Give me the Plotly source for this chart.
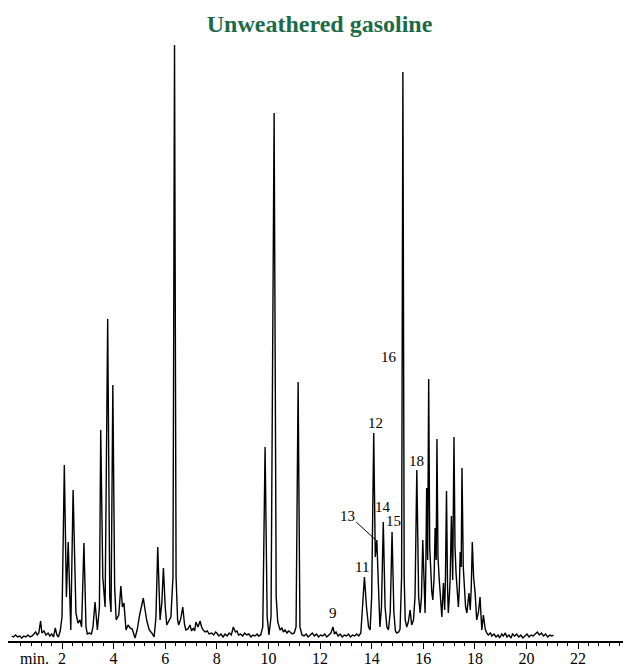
import plotly.graph_objects as go

# Chromatogram trace: retention time (min) and detector response (arbitrary units)
retention_time = [
    0.05, 0.12, 0.2, 0.28, 0.36, 0.44, 0.52, 0.6, 0.68, 0.76, 0.84, 0.92, 0.98, 1.04, 1.1, 1.17, 1.22, 1.3, 1.38, 1.46,
    1.53, 1.6, 1.67, 1.74, 1.8, 1.86, 1.93, 2.0, 2.09, 2.17, 2.24, 2.34, 2.43, 2.54, 2.62, 2.7, 2.76, 2.85, 2.93, 2.98,
    3.06, 3.14, 3.2, 3.28, 3.37, 3.45, 3.5, 3.58, 3.67, 3.77, 3.85, 3.9, 3.97, 4.04, 4.1, 4.2, 4.28, 4.34, 4.4, 4.48,
    4.56, 4.64, 4.72, 4.83, 4.92, 5.0, 5.08, 5.15, 5.22, 5.28, 5.38, 5.48, 5.57, 5.64, 5.71, 5.77, 5.8, 5.87, 5.93, 6.0,
    6.06, 6.12, 6.22, 6.3, 6.36, 6.42, 6.48, 6.52, 6.6, 6.68, 6.75, 6.8, 6.88, 6.96, 7.02, 7.09, 7.14, 7.19, 7.27, 7.35,
    7.41, 7.47, 7.55, 7.63, 7.7, 7.8, 7.88, 7.95, 8.0, 8.08, 8.16, 8.24, 8.32, 8.4, 8.48, 8.56, 8.64, 8.72, 8.78, 8.84,
    8.92, 9.0, 9.08, 9.16, 9.24, 9.32, 9.4, 9.48, 9.56, 9.62, 9.7, 9.78, 9.87, 9.95, 10.02, 10.1, 10.22, 10.3, 10.36, 10.45,
    10.52, 10.58, 10.64, 10.72, 10.78, 10.84, 10.92, 11.0, 11.07, 11.15, 11.22, 11.3, 11.38, 11.46, 11.54, 11.62, 11.7, 11.78, 11.86, 11.94,
    12.02, 12.1, 12.18, 12.26, 12.34, 12.42, 12.5, 12.56, 12.62, 12.7, 12.78, 12.86, 12.94, 13.02, 13.1, 13.18, 13.26, 13.34, 13.42, 13.5,
    13.58, 13.64, 13.72, 13.8, 13.88, 13.94, 14.0, 14.08, 14.14, 14.2, 14.26, 14.32, 14.38, 14.45, 14.52, 14.59, 14.65, 14.72, 14.79, 14.86,
    14.92, 14.97, 15.05, 15.1, 15.16, 15.21, 15.26, 15.3, 15.36, 15.42, 15.49, 15.55, 15.62, 15.68, 15.75, 15.82, 15.88, 15.93, 15.98, 16.03,
    16.07, 16.1, 16.13, 16.17, 16.21, 16.25, 16.29, 16.33, 16.37, 16.42, 16.46, 16.5, 16.53, 16.57, 16.62, 16.67, 16.72, 16.78, 16.83, 16.86,
    16.9, 16.94, 16.97, 17.01, 17.04, 17.09, 17.14, 17.19, 17.23, 17.27, 17.32, 17.36, 17.4, 17.43, 17.47, 17.5, 17.55, 17.59, 17.64, 17.69,
    17.73, 17.77, 17.82, 17.86, 17.9, 17.95, 18.01, 18.07, 18.14, 18.2, 18.24, 18.27, 18.33, 18.4, 18.46, 18.52, 18.6, 18.66, 18.74, 18.82,
    18.9, 18.96, 19.04, 19.1, 19.18, 19.24, 19.32, 19.4, 19.46, 19.54, 19.62, 19.7, 19.78, 19.86, 19.94, 20.02, 20.1, 20.18, 20.26, 20.34,
    20.42, 20.5, 20.58, 20.66, 20.74, 20.82, 20.9, 20.98, 21.05,
]
abundance = [
    1, 0, 2, 0, 1, -1, 1, 0, 2, 0, 1, 3, 5, 2, 4, 16, 4, 6, 2, 4,
    1, 3, 0, 9, 2, 0, 6, 20, 172, 40, 95, 7, 147, 24, 14, 17, 10, 94, 10, 3,
    4, 3, 10, 35, 7, 30, 207, 60, 30, 318, 40, 25, 252, 50, 17, 22, 51, 30, 34, 7,
    12, 9, 8, -1, 8, 21, 30, 39, 27, 17, 7, 4, 0, 20, 90, 30, 17, 35, 69, 30,
    12, 15, 20, 60, 592, 60, 17, 12, 18, 30, 12, 7, 8, 12, 6, 9, 6, 15, 10, 16,
    10, 7, 5, 6, 3, 4, 2, 5, 4, 1, 3, 0, 3, 1, 4, 2, 10, 5, 6, 2,
    3, 1, 4, 2, 3, 0, 2, 1, 3, 1, 2, 10, 190, 20, 2, 20, 524, 40, 15, 7,
    9, 5, 7, 4, 6, 5, 3, 4, 10, 255, 10, 2, 1, 3, 0, 2, 4, 1, 3, 0,
    2, 1, 3, 0, 2, 4, 10, 3, 5, 1, 3, 0, 2, 1, 3, 0, 2, 1, 3, 1,
    4, 30, 60, 30, 10, 7, 40, 204, 80, 97, 40, 10, 30, 115, 30, 10, 7, 25, 105, 25,
    6, 4, 5, 8, 60, 565, 60, 17, 10, 15, 27, 12, 17, 40, 167, 40, 24, 40, 97, 40,
    24, 70, 149, 77, 258, 90, 57, 45, 37, 60, 109, 77, 198, 80, 57, 35, 20, 54, 27, 60,
    146, 50, 24, 40, 57, 121, 57, 200, 90, 64, 40, 30, 50, 85, 70, 169, 70, 44, 30, 24,
    35, 44, 27, 50, 95, 60, 44, 17, 25, 40, 20, 7, 22, 8, 4, 2, 4, 1, 3, 0,
    2, -1, 3, 1, 4, 0, 2, -1, 3, 1, 3, 0, 2, -1, 1, 3, 0, 2, 1, 3,
    5, 2, 4, 1, 3, 0, 2, 1, 2,
]

# Peak labels (text, retention time, label height)
peak_labels = ["9", "11", "12", "13", "14", "15", "16", "18"]
label_time = [12.49, 13.64, 14.13, 13.07, 14.44, 14.83, 14.68, 15.72]
label_height = [24, 70, 214, 121, 130, 116, 280, 176]

# Leader line for peak 13 (from label to peak)
leader_time = [13.4, 14.16]
leader_height = [115, 97]

major_ticks = [2, 4, 6, 8, 10, 12, 14, 16, 18, 20, 22]
major_text = [str(v) for v in major_ticks]
minor_ticks = [round(0.4 * k, 1) for k in range(1, 60) if abs(round(0.4 * k, 1) / 2 - round(round(0.4 * k, 1) / 2)) > 1e-6]

SERIF = "Liberation Serif, Times New Roman, serif"

fig = go.Figure()
fig.add_trace(go.Scatter(
    x=retention_time, y=abundance, mode="lines",
    line=dict(color="black", width=1.4),
    hoverinfo="skip", showlegend=False,
))
fig.add_trace(go.Scatter(
    x=leader_time, y=leader_height, mode="lines",
    line=dict(color="black", width=1),
    hoverinfo="skip", showlegend=False,
))

for txt, t, h in zip(peak_labels, label_time, label_height):
    fig.add_annotation(x=t, y=h, text=txt, showarrow=False,
                       font=dict(family=SERIF, size=15, color="black"),
                       xanchor="center", yanchor="middle")

fig.add_annotation(xref="paper", yref="paper",
                   x=(34 - 8) / 615, y=-(658 - 641) / 601,
                   text="min.", showarrow=False,
                   xanchor="center", yanchor="middle",
                   font=dict(family=SERIF, size=16, color="black"))

fig.update_layout(
    width=629, height=667,
    margin=dict(l=8, r=6, t=40, b=26, pad=0, autoexpand=False),
    paper_bgcolor="white", plot_bgcolor="white",
    title=dict(text="<b>Unweathered gasoline</b>", x=0.508, xanchor="center",
               y=1 - 24 / 667, yanchor="middle", yref="container",
               font=dict(family=SERIF, size=24, color="#1b6b48")),
    xaxis=dict(
        range=[-0.093, 23.74], showgrid=False, zeroline=False, automargin=False,
        showline=True, linecolor="black", linewidth=1.6,
        tickmode="array", tickvals=major_ticks, ticktext=major_text,
        ticks="outside", ticklen=6, tickwidth=1.4, tickcolor="black",
        ticklabelstandoff=-4,
        tickfont=dict(family=SERIF, size=16, color="black"),
        minor=dict(tickmode="array", tickvals=minor_ticks, ticks="outside",
                   ticklen=3, tickwidth=1.2, tickcolor="black", showgrid=False),
        fixedrange=True,
    ),
    yaxis=dict(range=[-4, 597], visible=False, showgrid=False, zeroline=False,
               automargin=False, fixedrange=True),
)

fig.write_html("out.html")
